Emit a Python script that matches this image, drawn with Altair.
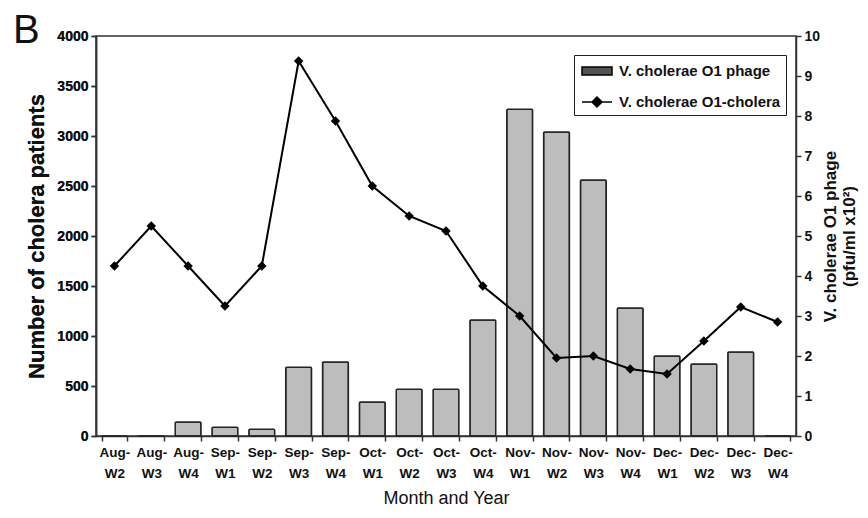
import altair as alt
import pandas as pd

weeks = ["Aug-W2", "Aug-W3", "Aug-W4", "Sep-W1", "Sep-W2", "Sep-W3", "Sep-W4",
         "Oct-W1", "Oct-W2", "Oct-W3", "Oct-W4", "Nov-W1", "Nov-W2", "Nov-W3",
         "Nov-W4", "Dec-W1", "Dec-W2", "Dec-W3", "Dec-W4"]
cholera = [1700, 2100, 1700, 1300, 1700, 3750, 3150, 2500, 2200, 2050, 1500,
           1200, 780, 800, 670, 620, 950, 1290, 1140]
phage = [0, 0, 0.35, 0.22, 0.17, 1.72, 1.85, 0.85, 1.17, 1.17, 2.9,
         8.17, 7.6, 6.4, 3.2, 2.0, 1.8, 2.1, 0]

PHAGE = "V. cholerae O1 phage"
CHOL = "V. cholerae O1-cholera"
series = [PHAGE, CHOL]

df = pd.DataFrame({"week": weeks, "cholera": cholera, "phage": phage})
legend_df = pd.DataFrame({"s": series})

FONT = "Liberation Sans"

x = alt.X("week:N", sort=weeks, title="Month and Year",
          scale=alt.Scale(paddingInner=0.3, paddingOuter=0.15),
          axis=alt.Axis(labelAngle=0, tickBand="extent", tickSize=5,
                        labelExpr="[slice(datum.label,0,4), slice(datum.label,4)]",
                        labelFont=FONT, labelFontSize=13.5, labelFontWeight="bold",
                        labelLineHeight=21, labelPadding=4, labelColor="#111",
                        titleFont=FONT, titleFontSize=18, titleFontWeight="normal",
                        titlePadding=10, titleColor="#111",
                        domainColor="#333", domainWidth=1.5, tickColor="#333", tickWidth=1.5))

bars = alt.Chart(df).mark_bar(
    fill="#bdbdbd", stroke="#222", strokeWidth=1.5, cornerRadius=1
).encode(
    x=x,
    y=alt.Y("phage:Q", scale=alt.Scale(domain=[0, 10]),
            title=["V. cholerae O1  phage", "(pfu/ml x10²)"],
            axis=alt.Axis(orient="right", values=list(range(0, 11)), grid=False,
                          tickSize=5, labelFont=FONT, labelFontSize=14,
                          labelFontWeight="bold", labelColor="#111", labelPadding=3,
                          titleFont=FONT, titleFontSize=17, titleFontWeight="bold",
                          titleAngle=270, titleColor="#111", titlePadding=1,
                          titleLineHeight=19,
                          domainColor="#333", domainWidth=1.5, tickColor="#333",
                          tickWidth=1.5)),
)

yl = alt.Y("cholera:Q", scale=alt.Scale(domain=[0, 4000]),
           title="Number of cholera patients",
           axis=alt.Axis(orient="left", values=list(range(0, 4001, 500)), format="d",
                         grid=False, tickSize=5, labelFont=FONT, labelFontSize=14,
                         labelFontWeight="bold", labelColor="#111", labelPadding=3,
                         titleFont=FONT, titleFontSize=22, titleFontWeight="bold",
                         titleColor="#111", titlePadding=8,
                         domainColor="#333", domainWidth=1.5, tickColor="#333",
                         tickWidth=1.5))

line = alt.Chart(df).mark_line(strokeWidth=2, color="black").encode(x=x, y=yl)

pts = alt.Chart(df).mark_point(
    shape="diamond", filled=True, size=90, opacity=1, color="black"
).encode(x=x, y=yl)

legend_layer = alt.Chart(legend_df).mark_point(filled=True, opacity=0).encode(
    color=alt.Color("s:N", scale=alt.Scale(domain=series, range=["#555555", "black"]),
                    legend=alt.Legend(
                        orient="none", legendX=478, legendY=19, title=None,
                        strokeColor="#222", padding=5, rowPadding=12,
                        labelFont=FONT, labelFontSize=15, labelFontWeight="bold",
                        labelColor="#111", labelLimit=300, symbolSize=400,
                        symbolStrokeWidth=1.5,
                        symbolStrokeColor="black", symbolOpacity=1,
                        symbolOffset=7, labelOffset=11)),
    shape=alt.Shape("s:N", scale=alt.Scale(domain=series, range=[
        "M-1.5,-0.4H1.5V0.4H-1.5Z",
        "M-1.5,0H1.5M0,-0.5L0.5,0L0,0.5L-0.5,0Z"]), legend=None),
)

chart = alt.layer(bars, line, pts, legend_layer).resolve_scale(y="independent").properties(
    width=700, height=400,
    autosize=alt.AutoSizeParams(type="none"),
    padding={"left": 88, "top": 28, "right": 64, "bottom": 74},
    title=alt.TitleParams("B", anchor="start", frame="group", fontSize=40,
                          fontWeight="normal", font=FONT, dx=-83, dy=22, offset=0,
                          color="#111"),
).configure_view(stroke="#333", strokeWidth=1.5)

chart.save("out.html", embed_options={"renderer": "svg", "actions": False})
